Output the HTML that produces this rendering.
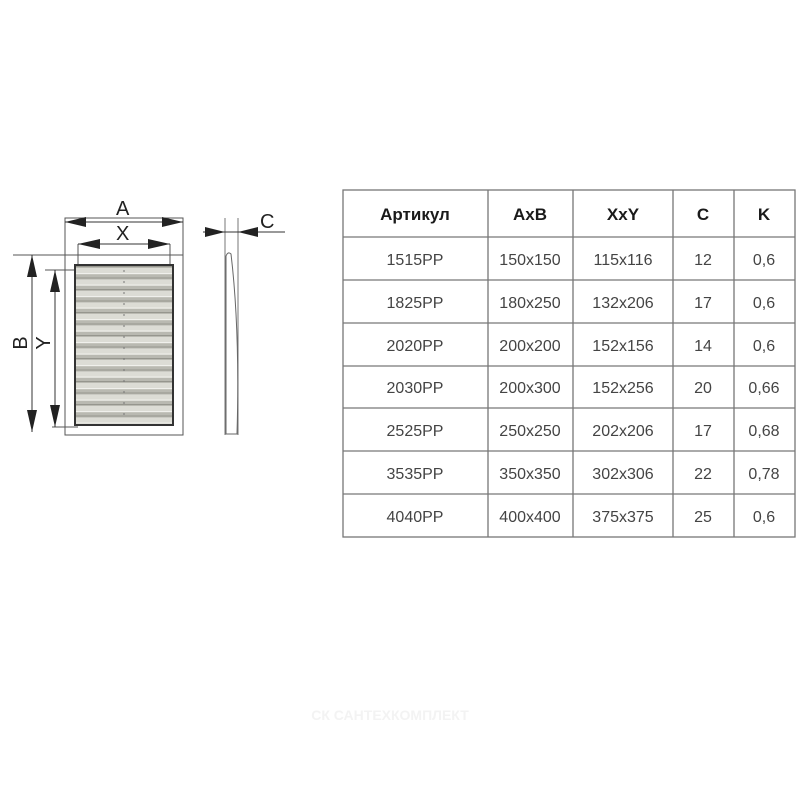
<!DOCTYPE html>
<html><head><meta charset="utf-8"><style>
html,body{margin:0;padding:0;background:#fff}
body{width:800px;height:800px;position:relative;overflow:hidden;font-family:"Liberation Sans",sans-serif}
</style></head><body>
<svg width="800" height="800" viewBox="0 0 800 800" style="position:absolute;left:0;top:0">
<defs>
<pattern id="sl" x="0" y="268" width="10" height="11.5" patternUnits="userSpaceOnUse">
<rect width="10" height="11.5" fill="#b9b9b1"/>
<rect y="0" width="10" height="5" fill="#dcdcd5"/>
<rect y="5" width="10" height="1.2" fill="#f0f0ec"/>
<rect y="9.5" width="10" height="1" fill="#96968e"/>
</pattern>
</defs>
<g fill="none" stroke="#333" stroke-width="1">
<rect x="65" y="218" width="118" height="217" stroke="#555"/>
<line x1="13" y1="255" x2="183" y2="255" stroke="#555"/>
<line x1="78" y1="244" x2="78" y2="268" stroke="#555"/>
<line x1="170" y1="244" x2="170" y2="268" stroke="#555"/>
<line x1="45" y1="270" x2="78" y2="270" stroke="#555"/>
<line x1="52" y1="427" x2="78" y2="427" stroke="#555"/>
<line x1="65" y1="222" x2="183" y2="222"/>
<line x1="78" y1="244" x2="170" y2="244"/>
<line x1="32" y1="255" x2="32" y2="432"/>
<line x1="55" y1="270" x2="55" y2="427"/>
<line x1="225" y1="218" x2="225" y2="435" stroke="#777"/>
<line x1="238" y1="218" x2="238" y2="435" stroke="#777"/>
<line x1="203" y1="232" x2="285" y2="232"/>
</g>
<g fill="#222">
<polygon points="65,222 86,217 86,227"/>
<polygon points="183,222 162,217 162,227"/>
<polygon points="78,244 100,239 100,249"/>
<polygon points="170,244 148,239 148,249"/>
<polygon points="32,255 27,277 37,277"/>
<polygon points="32,432 27,410 37,410"/>
<polygon points="55,270 50,292 60,292"/>
<polygon points="55,427 50,405 60,405"/>
<polygon points="225,232 205,227 205,237"/>
<polygon points="238,232 258,227 258,237"/>
</g>
<rect x="75" y="265" width="98" height="160" fill="url(#sl)" stroke="#333" stroke-width="2"/>
<line x1="124" y1="270" x2="124" y2="422" stroke="#777" stroke-width="1" stroke-dasharray="2,9"/>
<path d="M226,434 L226,256 Q228,251 231,254 Q240,330 237,434 Z" fill="#fff" stroke="#666" stroke-width="1"/>
<g font-family="Liberation Sans,sans-serif" font-size="20" fill="#222">
<text x="116" y="215">A</text>
<text x="116" y="240">X</text>
<text x="260" y="228">C</text>
<text transform="translate(27,343) rotate(-90)" text-anchor="middle">B</text>
<text transform="translate(50,343) rotate(-90)" text-anchor="middle">Y</text>
</g>
<g stroke="#777" stroke-width="1.3" fill="none">
<rect x="343" y="190" width="452" height="347"/>
<line x1="488" y1="190" x2="488" y2="537"/>
<line x1="573" y1="190" x2="573" y2="537"/>
<line x1="673" y1="190" x2="673" y2="537"/>
<line x1="734" y1="190" x2="734" y2="537"/>
<line x1="343" y1="237" x2="795" y2="237"/>
<line x1="343" y1="280" x2="795" y2="280"/>
<line x1="343" y1="323" x2="795" y2="323"/>
<line x1="343" y1="366" x2="795" y2="366"/>
<line x1="343" y1="408" x2="795" y2="408"/>
<line x1="343" y1="451" x2="795" y2="451"/>
<line x1="343" y1="494" x2="795" y2="494"/>
</g>
<g font-family="Liberation Sans,sans-serif" font-size="17" font-weight="bold" fill="#1a1a1a" text-anchor="middle">
<text x="415" y="220">Артикул</text>
<text x="530" y="220">AxB</text>
<text x="623" y="220">XxY</text>
<text x="703" y="220">C</text>
<text x="764" y="220">K</text>
</g>
<g font-family="Liberation Sans,sans-serif" font-size="16" fill="#444" text-anchor="middle">
<text x="415" y="265">1515PP</text><text x="530" y="265">150x150</text><text x="623" y="265">115x116</text><text x="703" y="265">12</text><text x="764" y="265">0,6</text>
<text x="415" y="308">1825PP</text><text x="530" y="308">180x250</text><text x="623" y="308">132x206</text><text x="703" y="308">17</text><text x="764" y="308">0,6</text>
<text x="415" y="351">2020PP</text><text x="530" y="351">200x200</text><text x="623" y="351">152x156</text><text x="703" y="351">14</text><text x="764" y="351">0,6</text>
<text x="415" y="393">2030PP</text><text x="530" y="393">200x300</text><text x="623" y="393">152x256</text><text x="703" y="393">20</text><text x="764" y="393">0,66</text>
<text x="415" y="436">2525PP</text><text x="530" y="436">250x250</text><text x="623" y="436">202x206</text><text x="703" y="436">17</text><text x="764" y="436">0,68</text>
<text x="415" y="479">3535PP</text><text x="530" y="479">350x350</text><text x="623" y="479">302x306</text><text x="703" y="479">22</text><text x="764" y="479">0,78</text>
<text x="415" y="522">4040PP</text><text x="530" y="522">400x400</text><text x="623" y="522">375x375</text><text x="703" y="522">25</text><text x="764" y="522">0,6</text>
</g>
<text x="390" y="720" text-anchor="middle" font-family="Liberation Sans,sans-serif" font-size="14" font-weight="bold" fill="#f3f3f3">СК САНТЕХКОМПЛЕКТ</text>
</svg>
</body></html>
